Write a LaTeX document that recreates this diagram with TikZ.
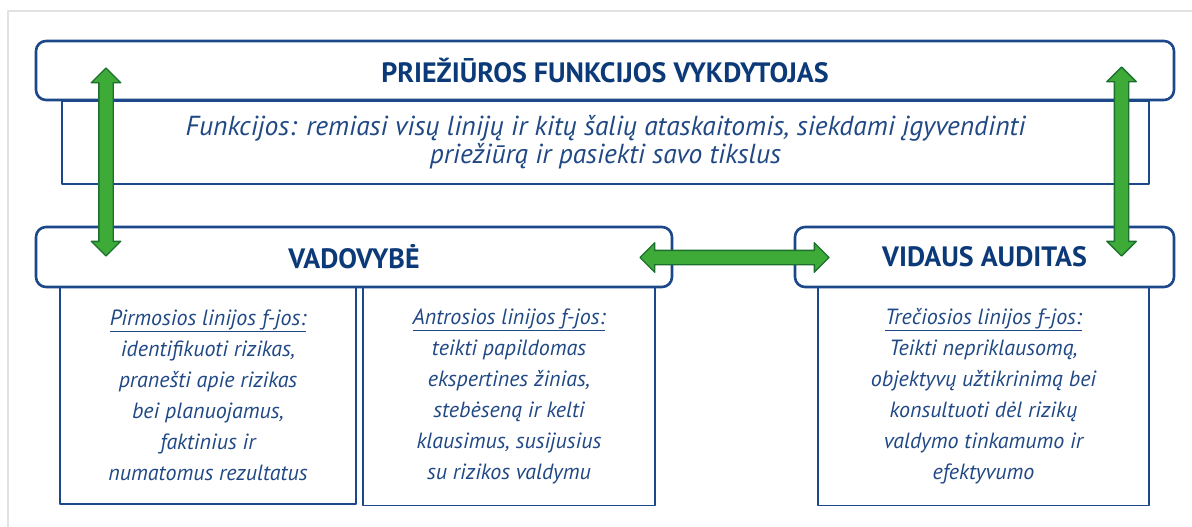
\documentclass[tikz,border=0pt]{standalone}
\usepackage{fontspec}
\setmainfont{PT Sans}
\usetikzlibrary{shapes.arrows}
\definecolor{navy}{RGB}{12,58,120}
\definecolor{boxblue}{RGB}{28,72,138}
\definecolor{txtblue}{RGB}{32,72,132}
\definecolor{arrgreen}{RGB}{62,170,56}
\definecolor{arrdark}{RGB}{28,112,46}
\definecolor{framegray}{RGB}{226,226,226}
\begin{document}
\begin{tikzpicture}[x=1pt,y=-1pt,line join=round,
	headbox/.style={draw=boxblue,line width=2.6pt,rounded corners=10pt,fill=white,inner sep=0pt,
		font=\fontsize{28}{30}\selectfont\bfseries,text=navy},
	funcbox/.style={draw=boxblue,line width=1.6pt,inner sep=0pt,align=center,
		font=\fontsize{22}{31}\selectfont\itshape,text=txtblue},
	dblarrow/.style={double arrow,draw=arrdark,fill=arrgreen,line width=1.4pt,inner sep=6.5pt,
		double arrow head extend=7.5pt}]
	\useasboundingbox (0,0) rectangle (1192,527);
	\draw[framegray,line width=1.5pt] (8,527)--(8,11)--(1192,11);
	% funkciju langeliai
	\node[funcbox,minimum width=1087pt,minimum height=83pt,font=\fontsize{27.5}{28}\selectfont\itshape]
	(funk) at (605.5,142.5)
	{Funkcijos: remiasi visų linijų ir kitų šalių ataskaitomis, siekdami įgyvendinti\\
		priežiūrą ir pasiekti savo tikslus};
	\node[funcbox,minimum width=296pt,minimum height=218pt] (pirma) at (208,395)
	{\underline{Pirmosios linijos f-jos:}\\ identifikuoti rizikas,\\ pranešti apie rizikas\\
		bei planuojamus,\\ faktinius ir\\ numatomus rezultatus};
	\node[funcbox,minimum width=292pt,minimum height=219pt] (antra) at (509,396)
	{\underline{Antrosios linijos f-jos:}\\ teikti papildomas\\ ekspertines žinias,\\
		stebėseną ir kelti\\ klausimus, susijusius\\ su rizikos valdymu};
	\node[funcbox,minimum width=331pt,minimum height=219pt] (trecia) at (983.5,396)
	{\underline{Trečiosios linijos f-jos:}\\ Teikti nepriklausomą,\\ objektyvų užtikrinimą bei\\
		konsultuoti dėl rizikų\\ valdymo tinkamumo ir\\ efektyvumo};
	% antrastes
	\node[headbox,minimum width=1138pt,minimum height=59pt] (prieziura) at (605,70.5)
	{PRIEŽIŪROS FUNKCIJOS VYKDYTOJAS};
	\node[headbox,minimum width=636pt,minimum height=60pt] (vadovybe) at (354,257)
	{VADOVYBĖ};
	\node[headbox,minimum width=379pt,minimum height=60pt] (auditas) at (984.5,257)
	{VIDAUS AUDITAS};
	% rodykles
	\node[dblarrow,rotate=90,minimum height=188pt] (kaire) at (106,162) {};
	\node[dblarrow,rotate=90,minimum height=189pt] (desine) at (1121.5,161.5) {};
	\node[dblarrow,minimum height=189pt] (vidurys) at (734.5,257.5) {};
\end{tikzpicture}
\end{document}
